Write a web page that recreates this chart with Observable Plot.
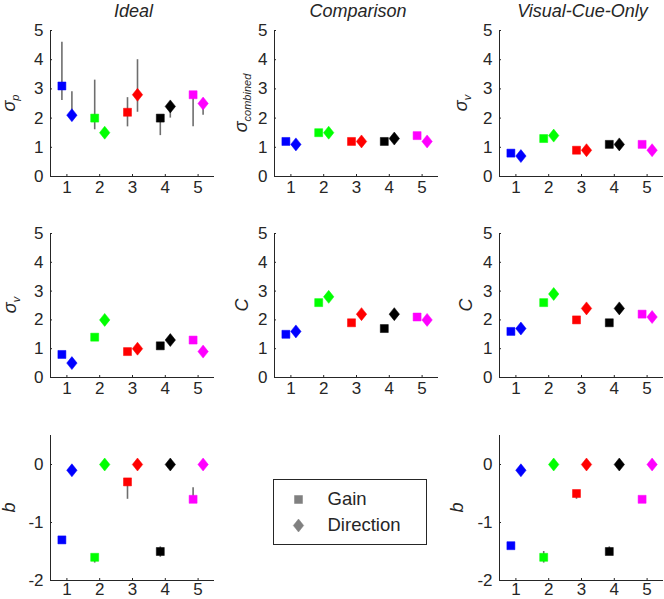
<!DOCTYPE html>
<html><head><meta charset="utf-8">
<script src="https://cdn.jsdelivr.net/npm/d3@7"></script>
<script src="https://cdn.jsdelivr.net/npm/@observablehq/plot@0.6"></script>
<style>
body{margin:0;background:#fff;}
#fig{position:relative;width:664px;height:599px;overflow:hidden;font-family:"Liberation Sans",Arial,Helvetica,sans-serif;color:#262626;}
#fig > svg{position:absolute;overflow:visible;}
</style></head><body><div id="fig"></div>
<script>
// ---------------- data ----------------
const conditions = [1, 2, 3, 4, 5];
const conditionColors = ["#0000ff", "#00ff00", "#ff0000", "#000000", "#ff00ff"];
const xTicks = [1, 2, 3, 4, 5];
const yTicksSigma = [0, 1, 2, 3, 4, 5];
const yTicksB = [-2, -1, 0];
const columnTitles = ["Ideal", "Comparison", "Visual-Cue-Only"];
const legendLabels = ["Gain", "Direction"];

// Ideal – sigma_p
const idealSigmaPGain   = [3.1, 2.0, 2.2, 2.0, 2.8];
const idealSigmaPGainLo = [2.6, 1.6, 1.7, 1.4, 1.7];
const idealSigmaPGainHi = [4.6, 3.3, 2.7, 2.0, 2.8];
const idealSigmaPDir    = [2.1, 1.5, 2.8, 2.4, 2.5];
const idealSigmaPDirLo  = [2.0, 1.5, 2.2, 2.0, 2.1];
const idealSigmaPDirHi  = [2.9, 1.5, 4.0, 2.4, 2.5];

// Comparison – sigma_combined
const compSigmaGain = [1.2, 1.5, 1.2, 1.2, 1.4];
const compSigmaDir  = [1.1, 1.5, 1.2, 1.3, 1.2];

// Visual-cue-only – sigma_v
const visSigmaGain = [0.8, 1.3, 0.9, 1.1, 1.1];
const visSigmaDir  = [0.7, 1.4, 0.9, 1.1, 0.9];

// Ideal – sigma_v
const idealSigmaVGain   = [0.8, 1.4, 0.9, 1.1, 1.3];
const idealSigmaVGainLo = [0.8, 1.4, 0.9, 1.0, 1.2];
const idealSigmaVDir    = [0.5, 2.0, 1.0, 1.3, 0.9];

// Comparison – C
const compCGain   = [1.5, 2.6, 1.9, 1.7, 2.1];
const compCGainHi = [1.5, 2.7, 1.9, 1.7, 2.1];
const compCDir    = [1.6, 2.8, 2.2, 2.2, 2.0];

// Visual-cue-only – C
const visCGain   = [1.6, 2.6, 2.0, 1.9, 2.2];
const visCGainHi = [1.6, 2.7, 2.0, 1.9, 2.2];
const visCDir    = [1.7, 2.9, 2.4, 2.4, 2.1];

// Ideal – b
const idealBGain   = [-1.3, -1.6, -0.3, -1.5, -0.6];
const idealBGainLo = [-1.3, -1.7, -0.6, -1.6, -0.6];
const idealBGainHi = [-1.3, -1.6, -0.3, -1.42, -0.4];
const idealBDir    = [-0.1, 0, 0, 0, 0];

// Visual-cue-only – b
const visBGain   = [-1.4, -1.6, -0.5, -1.5, -0.6];
const visBGainLo = [-1.4, -1.7, -0.6, -1.55, -0.67];
const visBGainHi = [-1.4, -1.5, -0.5, -1.42, -0.6];
const visBDir    = [-0.1, 0, 0, 0, 0];

// ---------------- layout ----------------
const colAxisX = [49.5, 274, 498.5];
const rowTop = [30, 233, 435];
const rowBottom = [176, 377, 580];
const rowTickPadding = [6, 6, 4];
const plotW = 164;
const mL = 45, mT = 8, mR = 1;
const FONT = '"Liberation Sans", Arial, Helvetica, sans-serif';

const panels = [
  {row:0, col:0, label:["σ","p"], lx:15, yTicks:yTicksSigma, gain:idealSigmaPGain, gainLo:idealSigmaPGainLo, gainHi:idealSigmaPGainHi, dir:idealSigmaPDir, dirLo:idealSigmaPDirLo, dirHi:idealSigmaPDirHi},
  {row:0, col:1, label:["σ","combined"], lx:247, yTicks:yTicksSigma, gain:compSigmaGain, dir:compSigmaDir},
  {row:0, col:2, label:["σ","v"], lx:467, yTicks:yTicksSigma, gain:visSigmaGain, dir:visSigmaDir},
  {row:1, col:0, label:["σ","v"], lx:16, yTicks:yTicksSigma, gain:idealSigmaVGain, gainLo:idealSigmaVGainLo, dir:idealSigmaVDir},
  {row:1, col:1, label:["C",null], lx:248, yTicks:yTicksSigma, gain:compCGain, gainHi:compCGainHi, dir:compCDir},
  {row:1, col:2, label:["C",null], lx:472, yTicks:yTicksSigma, gain:visCGain, gainHi:visCGainHi, dir:visCDir},
  {row:2, col:0, label:["b",null], lx:15, yTicks:yTicksB, yMax:0.5, gain:idealBGain, gainLo:idealBGainLo, gainHi:idealBGainHi, dir:idealBDir},
  {row:2, col:2, label:["b",null], lx:463, yTicks:yTicksB, yMax:0.5, gain:visBGain, gainLo:visBGainLo, gainHi:visBGainHi, dir:visBDir}
];

// custom symbols (MATLAB-like square and diamond)
const squareSym = {draw(ctx){ ctx.moveTo(-4,-4); ctx.lineTo(4,-4); ctx.lineTo(4,4); ctx.lineTo(-4,4); ctx.closePath(); }};
const diamondSym = {draw(ctx){ ctx.moveTo(0,-6.5); ctx.lineTo(5.2,0); ctx.lineTo(0,6.5); ctx.lineTo(-5.2,0); ctx.closePath(); }};

const fig = document.getElementById("fig");

function rows(mean, lo, hi) {
  return conditions.map((c, i) => ({
    cond: c, v: mean[i],
    lo: lo ? lo[i] : mean[i], hi: hi ? hi[i] : mean[i],
    color: conditionColors[i]
  }));
}

for (const p of panels) {
  const g = rows(p.gain, p.gainLo, p.gainHi);
  const d = rows(p.dir, p.dirLo, p.dirHi);
  const yMin = p.yTicks[0];
  const yMax = p.yMax ?? p.yTicks[p.yTicks.length - 1];
  const h = rowBottom[p.row] - rowTop[p.row];
  const mB = p.row === 2 ? 599 - rowBottom[p.row] : 22;
  const chart = Plot.plot({
    width: mL + plotW + mR,
    height: mT + h + mB,
    marginLeft: mL, marginRight: mR, marginTop: mT, marginBottom: mB,
    style: {fontFamily: FONT, color: "#262626", background: "transparent", overflow: "visible"},
    x: {domain: [0.5, 5.5]},
    y: {domain: [yMin, yMax]},
    color: {type: "identity"},
    marks: [
      Plot.ruleX([0.5], {stroke: "#262626", strokeWidth: 1}),
      Plot.ruleY([yMin], {stroke: "#262626", strokeWidth: 1}),
      Plot.axisX(xTicks, {label: null, tickSize: -2, tickPadding: rowTickPadding[p.row], fontSize: 17, tickFormat: t => String(t), stroke: "#262626"}),
      Plot.axisY(p.yTicks, {label: null, tickSize: -2, tickPadding: 9, fontSize: 17, tickFormat: t => String(t), stroke: "#262626"}),
      Plot.ruleX(g, {x: "cond", y1: "lo", y2: "hi", dx: -5, stroke: "#6e6e6e", strokeWidth: 1.6}),
      Plot.ruleX(d, {x: "cond", y1: "lo", y2: "hi", dx: 5, stroke: "#6e6e6e", strokeWidth: 1.6}),
      Plot.dot(g, {x: "cond", y: "v", dx: -5, symbol: squareSym, fill: "color", stroke: "color", strokeWidth: 0.5}),
      Plot.dot(d, {x: "cond", y: "v", dx: 5, symbol: diamondSym, fill: "color", stroke: "color", strokeWidth: 0.5})
    ]
  });
  chart.style.left = (colAxisX[p.col] - mL) + "px";
  chart.style.top = (rowTop[p.row] - mT) + "px";
  fig.appendChild(chart);
}

// legend
const legend = Plot.plot({
  width: 153, height: 65, margin: 0,
  style: {fontFamily: FONT, color: "#262626", background: "#fff"},
  y: {type: "point", domain: legendLabels, range: [19.5, 45.5], padding: 0, axis: null},
  symbol: {type: "identity"},
  marks: [
    Plot.frame({stroke: "#262626", strokeWidth: 1}),
    Plot.dot(legendLabels, {y: d => d, frameAnchor: "left", dx: 25, symbol: d => d === "Gain" ? squareSym : diamondSym, fill: "#808080", stroke: "#808080", strokeWidth: 0.5}),
    Plot.text(legendLabels, {y: d => d, text: d => d, frameAnchor: "left", dx: 54, textAnchor: "start", fontSize: 18.5, fill: "#262626"})
  ]
});
legend.style.left = "273px";
legend.style.top = "479px";
fig.appendChild(legend);

// titles and y labels (real text)
const overlay = d3.create("svg")
  .attr("width", 664).attr("height", 599)
  .style("left", "0px").style("top", "0px").style("pointer-events", "none")
  .style("font-family", FONT);

columnTitles.forEach((t, i) => {
  overlay.append("text")
    .attr("x", colAxisX[i] + plotW / 2 + 2).attr("y", 17)
    .attr("text-anchor", "middle").attr("font-style", "italic")
    .attr("font-size", 18).attr("fill", "#262626").text(t);
});

for (const p of panels) {
  const cy = (rowTop[p.row] + rowBottom[p.row]) / 2;
  const t = overlay.append("text")
    .attr("transform", `translate(${p.lx},${cy}) rotate(-90)`)
    .attr("text-anchor", "middle").attr("font-style", "italic")
    .attr("font-size", 18).attr("fill", "#262626");
  t.append("tspan").text(p.label[0]);
  if (p.label[1]) t.append("tspan").attr("dy", 4).attr("font-size", 11).text(p.label[1]);
}
fig.appendChild(overlay.node());
</script>
</body></html>
